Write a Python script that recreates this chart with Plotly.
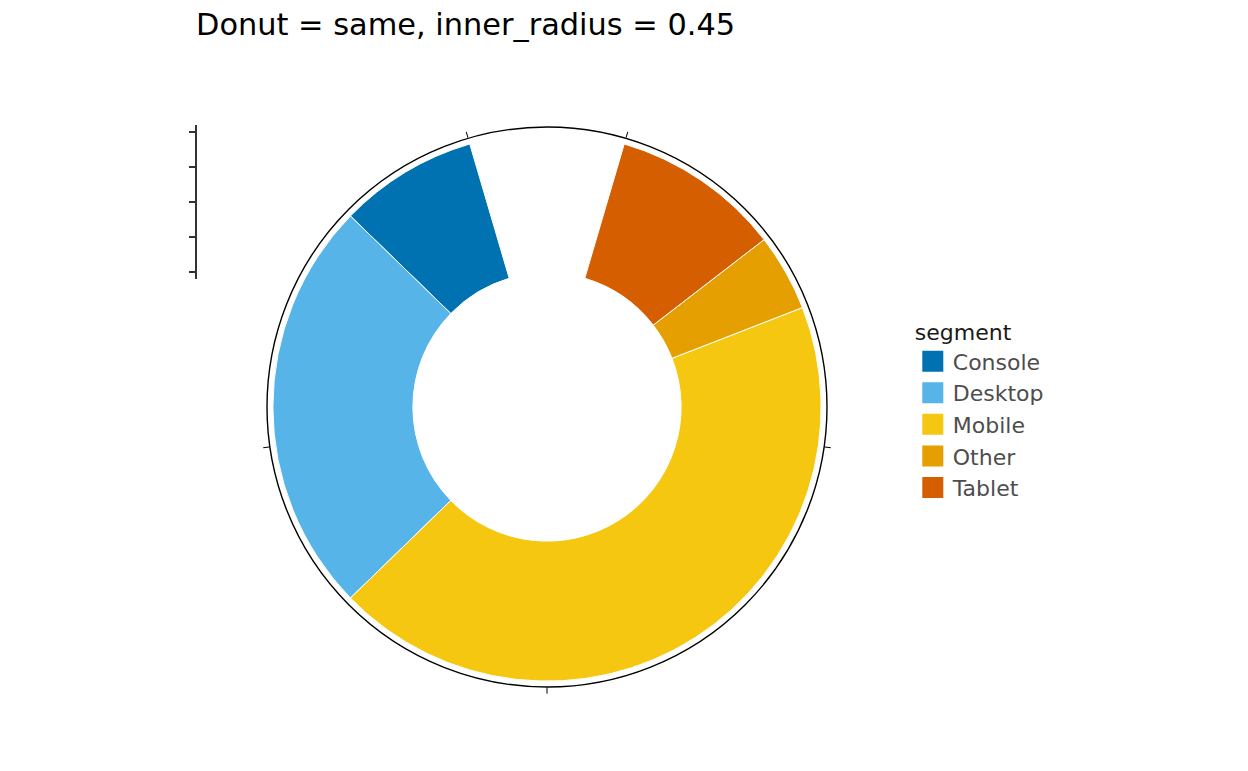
import plotly.graph_objects as go

# data
segments = ["Console", "Desktop", "Mobile", "Other", "Tablet"]
shares = [9, 27, 48, 5, 11]
colors = ["#0072B2", "#56B4E9", "#F5C710", "#E69F00", "#D55E00"]
theta_breaks = [0, 25, 50, 75, 100]
r_breaks = [1, 2, 3, 4, 5]

inner_r = 0.479
outer_r = 0.979
expand = 0.05

total = sum(shares)
span = total * (1 + 2 * expand)


def to_deg(v):
    return (v + expand * total) / span * 360


# the page has an 8px body margin, so shift everything back by it
W, H, off = 1248, 771, 8

fig = go.Figure()
start = 0
pos = {}
# stacked clockwise from top in reverse level order
for seg, val in zip(reversed(segments), reversed(shares)):
    pos[seg] = (start, val)
    start += val

for seg, val, col in zip(segments, shares, colors):
    s, v = pos[seg]
    fig.add_trace(go.Barpolar(
        r=[outer_r - inner_r], base=[inner_r],
        theta=[to_deg(s + v / 2)], width=[v / span * 360],
        name=seg, legendgroup=seg, showlegend=False,
        marker=dict(color=col, line=dict(color="white", width=1)),
    ))

# legend keys as big squares
for seg, col in zip(segments, colors):
    fig.add_trace(go.Scatterpolar(
        r=[None], theta=[None], mode="markers", name=seg, legendgroup=seg,
        marker=dict(symbol="square", size=24, color=col, line=dict(color=col, width=5)),
        hoverinfo="skip",
    ))

# dummy trace for the stray radial axis on the left
fig.add_trace(go.Scatter(x=[None], y=[None], showlegend=False, hoverinfo="skip"))

fig.update_layout(
    width=W, height=H,
    margin=dict(l=0, r=0, t=0, b=0),
    paper_bgcolor="white", plot_bgcolor="white",
    font=dict(family="DejaVu Sans", color="#000000"),
    title=dict(text="Donut = same, inner_radius = 0.45", x=(196 - off) / W, xanchor="left",
               y=1 - (24 - off) / H, yanchor="middle", font=dict(size=30.4, color="black")),
    polar=dict(
        domain=dict(x=[(267 - off) / W, (827 - off) / W],
                    y=[(H - 687 + off) / H, (H - 127 + off) / H]),
        bgcolor="white",
        angularaxis=dict(rotation=90, direction="clockwise", showgrid=False,
                         showline=True, linecolor="black", linewidth=1.4,
                         ticks="outside", ticklen=6, tickcolor="black", tickwidth=1.4,
                         tickvals=[to_deg(b * total / 100) for b in theta_breaks],
                         showticklabels=False),
        radialaxis=dict(visible=False, range=[0, 1]),
    ),
    xaxis=dict(visible=False, domain=[0.16, 0.2]),
    yaxis=dict(domain=[(H - 279 + off) / H, (H - 125 + off) / H], anchor="free",
               position=(196 - off) / W,
               range=[0.81, 5.19], tickvals=r_breaks, showticklabels=False,
               ticks="outside", ticklen=6, tickwidth=1.6, tickcolor="#333333",
               showline=True, linecolor="#333333", linewidth=1.6,
               showgrid=False, zeroline=False),
    legend=dict(title=dict(text="segment", font=dict(size=22, color="#1a1a1a")),
                font=dict(size=22, color="#4d4d4d"),
                x=0.725, xanchor="left", y=0.606, yanchor="top",
                traceorder="normal", itemsizing="trace"),
)

fig.write_html("out.html")
